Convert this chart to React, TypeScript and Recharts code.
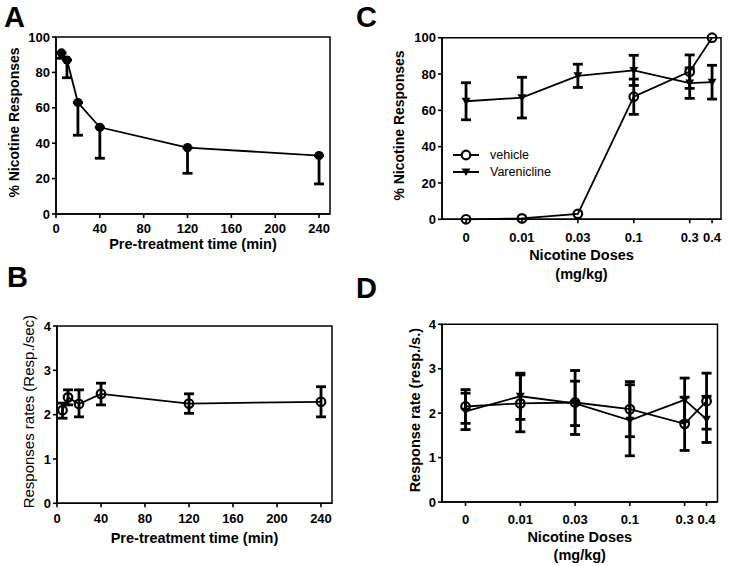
import { Legend, ErrorBar, Line, LineChart, ReferenceArea, XAxis, YAxis } from "recharts";

const FONT = "'Liberation Sans', Arial, Helvetica, sans-serif";

// A / B: pre-treatment time course
const pretreatMin = [5, 10, 20, 40, 120, 240];
const timeTicks = [0, 40, 80, 120, 160, 200, 240];
const nicPct = [91, 87, 63, 49, 37.5, 33];
const nicPctLow = [88, 77, 44.5, 31.5, 23, 17];
const rate = [2.1, 2.39, 2.24, 2.47, 2.25, 2.29];
const rateLow = [1.92, 2.22, 1.95, 2.22, 2.03, 1.95];
const rateHigh = [2.26, 2.56, 2.56, 2.71, 2.47, 2.63];

// C / D: nicotine dose response
const doseLabels = ["0", "0.01", "0.03", "0.1", "0.3", "0.4"];
const dosePos = [0, 1, 2, 3, 4, 4.4];
const vehPct = [0, 0.5, 3, 67.5, 81.3, 100];
const vehPctSem = [0, 0, 0, 9.7, 9.2, 0];
const varPct = [65, 67, 79, 82, 75, 75.5];
const varPctSem = [10.2, 11.2, 6.4, 8.3, 8.4, 9.3];
const vehRate = [2.15, 2.22, 2.24, 2.09, 1.76, 2.27];
const vehRateSem = [0.38, 0.64, 0.72, 0.62, 0.6, 0.63];
const varRate = [2.04, 2.38, 2.22, 1.84, 2.3, 1.86];
const varRateSem = [0.41, 0.52, 0.5, 0.8, 0.49, 0.52];

const pctTicks = [0, 20, 40, 60, 80, 100];
const rateTicks = [0, 1, 2, 3, 4];

const dataA = pretreatMin.map((t, i) => ({ t, v: nicPct[i], err: [nicPct[i] - nicPctLow[i], 0] }));
const dataB = pretreatMin.map((t, i) => ({ t, v: rate[i], err: [rate[i] - rateLow[i], rateHigh[i] - rate[i]] }));
const dataC = dosePos.map((x, i) => ({ x, veh: vehPct[i], vehErr: vehPctSem[i], vrn: varPct[i], vrnErr: varPctSem[i] }));
const dataD = dosePos.map((x, i) => ({ x, veh: vehRate[i], vehErr: vehRateSem[i], vrn: varRate[i], vrnErr: varRateSem[i] }));

const tickStyle = { fill: "#000", fontSize: 13, fontWeight: 700, fontFamily: FONT };

const filledDot = (p: any) => <circle key={`f${p.index}`} cx={p.cx} cy={p.cy} r={4.6} fill="#000" />;
const openDot = (p: any) => (
  <circle key={`o${p.index}`} cx={p.cx} cy={p.cy} r={4.3} fill="none" stroke="#000" strokeWidth={2.2} />
);
const triDot = (p: any) => (
  <path
    key={`t${p.index}`}
    d={`M${p.cx - 4.5},${p.cy - 3.5}L${p.cx + 4.5},${p.cy - 3.5}L${p.cx},${p.cy + 4}Z`}
    fill="#000"
  />
);

function yTitle(text: string, x: number, bold: boolean, size: number) {
  return (props: any) => {
    const vb = props.viewBox;
    const cy = vb.y + vb.height / 2 - 3;
    return (
      <text
        x={x}
        y={cy}
        transform={`rotate(-90, ${x}, ${cy})`}
        textAnchor="middle"
        dominantBaseline="central"
        fill="#000"
        fontSize={size}
        fontWeight={bold ? 700 : 400}
        fontFamily={FONT}
      >
        {text}
      </text>
    );
  };
}

function xTitle(lines: string[], ys: number[]) {
  return (props: any) => {
    const vb = props.viewBox;
    const cx = vb.x + vb.width / 2;
    return (
      <g>
        {lines.map((s, i) => (
          <text
            key={s}
            x={cx}
            y={ys[i]}
            textAnchor="middle"
            dominantBaseline="central"
            fill="#000"
            fontSize={14.5}
            fontWeight={700}
            fontFamily={FONT}
          >
            {s}
          </text>
        ))}
      </g>
    );
  };
}

const doseFmt = (v: number) => doseLabels[dosePos.indexOf(v)] ?? "";

function DoseLegend() {
  return (
    <svg width={130} height={36} style={{ display: "block" }}>
      <line x1={0} y1={8} x2={26} y2={8} stroke="#000" strokeWidth={2} />
      <circle cx={13} cy={8} r={4.3} fill="#fff" stroke="#000" strokeWidth={2.2} />
      <text x={37} y={8} dominantBaseline="central" fontSize={12.5} fontFamily={FONT} fill="#000">
        vehicle
      </text>
      <line x1={0} y1={25} x2={26} y2={25} stroke="#000" strokeWidth={2} />
      <path d="M8.5,21.5L17.5,21.5L13,29Z" fill="#000" />
      <text x={37} y={25} dominantBaseline="central" fontSize={12.5} fontFamily={FONT} fill="#000">
        Varenicline
      </text>
    </svg>
  );
}

const axisCommon = {
  stroke: "#000",
  strokeWidth: 1.6,
  tickSize: 4,
  tick: tickStyle,
  interval: 0 as const,
};

function PanelA() {
  return (
    <LineChart width={360} height={270} data={dataA} margin={{ top: 37, right: 30, bottom: 6, left: 16 }}>
      <XAxis
        {...axisCommon}
        dataKey="t"
        type="number"
        domain={[0, 250]}
        ticks={timeTicks}
        height={50}
        tickMargin={5.5}
        label={xTitle(["Pre-treatment time (min)"], [244])}
      />
      <YAxis
        {...axisCommon}
        type="number"
        domain={[0, 100]}
        ticks={pctTicks}
        width={40}
        tickMargin={2}
        label={yTitle("% Nicotine Responses", 14, true, 14)}
      />
      <ReferenceArea x1={0} x2={250} y1={0} y2={100} fill="none" stroke="#000" strokeWidth={1.5} />
      <Line dataKey="v" stroke="#000" strokeWidth={1.8} dot={filledDot} isAnimationActive={false}>
        <ErrorBar dataKey="err" direction="y" width={5} stroke="#000" strokeWidth={2.8} />
      </Line>
    </LineChart>
  );
}

function PanelB() {
  return (
    <LineChart width={360} height={286} data={dataB} margin={{ top: 46, right: 28, bottom: 12.7, left: 17 }}>
      <XAxis
        {...axisCommon}
        dataKey="t"
        type="number"
        domain={[0, 250]}
        ticks={timeTicks}
        height={50}
        tickMargin={6.3}
        label={xTitle(["Pre-treatment time (min)"], [258])}
      />
      <YAxis
        {...axisCommon}
        type="number"
        domain={[0, 4]}
        ticks={rateTicks}
        width={40}
        tickMargin={2}
        label={yTitle("Responses rates (Resp./sec)", 29, false, 15)}
      />
      <ReferenceArea x1={0} x2={250} y1={0} y2={4} fill="none" stroke="#000" strokeWidth={1.5} />
      <Line dataKey="v" stroke="#000" strokeWidth={1.8} dot={openDot} isAnimationActive={false}>
        <ErrorBar dataKey="err" direction="y" width={5} stroke="#000" strokeWidth={2.8} />
      </Line>
    </LineChart>
  );
}

function PanelC() {
  return (
    <LineChart width={369} height={290} data={dataC} margin={{ top: 37.7, right: 8, bottom: 10.7, left: 42 }}>
      <XAxis
        {...axisCommon}
        dataKey="x"
        type="number"
        domain={[-0.43, 4.56]}
        ticks={dosePos}
        tickFormatter={doseFmt}
        height={60}
        tickMargin={9.8}
        label={xTitle(["Nicotine Doses", "(mg/kg)"], [255, 274])}
      />
      <YAxis
        {...axisCommon}
        type="number"
        domain={[0, 100]}
        ticks={pctTicks}
        width={40}
        tickMargin={2}
        label={yTitle("% Nicotine Responses", 39, true, 14)}
      />
      <ReferenceArea x1={-0.43} x2={4.56} y1={0} y2={100} fill="none" stroke="#000" strokeWidth={1.5} />
      <Line dataKey="vrn" stroke="#000" strokeWidth={1.8} dot={triDot} isAnimationActive={false}>
        <ErrorBar dataKey="vrnErr" direction="y" width={5} stroke="#000" strokeWidth={2.8} />
      </Line>
      <Line dataKey="veh" stroke="#000" strokeWidth={1.8} dot={openDot} isAnimationActive={false}>
        <ErrorBar dataKey="vehErr" direction="y" width={5} stroke="#000" strokeWidth={2.8} />
      </Line>
      <Legend
        layout="vertical"
        align="center"
        verticalAlign="middle"
        content={() => <DoseLegend />}
        wrapperStyle={{ left: 93, top: 147, width: 130, height: 36 }}
      />
    </LineChart>
  );
}

function PanelD() {
  return (
    <LineChart width={369} height={276} data={dataD} margin={{ top: 34.3, right: 11.5, bottom: 4, left: 42 }}>
      <XAxis
        {...axisCommon}
        dataKey="x"
        type="number"
        domain={[-0.43, 4.6]}
        ticks={dosePos}
        tickFormatter={doseFmt}
        height={60}
        tickMargin={8.4}
        label={xTitle(["Nicotine Doses", "(mg/kg)"], [246.7, 265])}
      />
      <YAxis
        {...axisCommon}
        type="number"
        domain={[0, 4]}
        ticks={rateTicks}
        width={40}
        tickMargin={2}
        label={yTitle("Response rate (resp./s.)", 55, true, 14.5)}
      />
      <ReferenceArea x1={-0.43} x2={4.6} y1={0} y2={4} fill="none" stroke="#000" strokeWidth={1.5} />
      <Line dataKey="vrn" stroke="#000" strokeWidth={1.8} dot={triDot} isAnimationActive={false}>
        <ErrorBar dataKey="vrnErr" direction="y" width={5} stroke="#000" strokeWidth={2.8} />
      </Line>
      <Line dataKey="veh" stroke="#000" strokeWidth={1.8} dot={openDot} isAnimationActive={false}>
        <ErrorBar dataKey="vehErr" direction="y" width={5} stroke="#000" strokeWidth={2.8} />
      </Line>
    </LineChart>
  );
}

const letterStyle = { fontSize: 29, fontWeight: 700, fontFamily: FONT, fill: "#000" };

export default function App() {
  return (
    <div style={{ position: "absolute", left: 0, top: 0, width: 729, height: 566, background: "#fff" }}>
      <div style={{ position: "absolute", left: 0, top: 0 }}>
        <PanelA />
      </div>
      <div style={{ position: "absolute", left: 0, top: 280 }}>
        <PanelB />
      </div>
      <div style={{ position: "absolute", left: 360, top: 0 }}>
        <PanelC />
      </div>
      <div style={{ position: "absolute", left: 360, top: 290 }}>
        <PanelD />
      </div>
      <svg width={729} height={566} style={{ position: "absolute", left: 0, top: 0, pointerEvents: "none" }}>
        <text x={4} y={27} {...letterStyle}>A</text>
        <text x={7} y={287} {...letterStyle}>B</text>
        <text x={356} y={27} {...letterStyle}>C</text>
        <text x={356} y={298} {...letterStyle}>D</text>
      </svg>
    </div>
  );
}
